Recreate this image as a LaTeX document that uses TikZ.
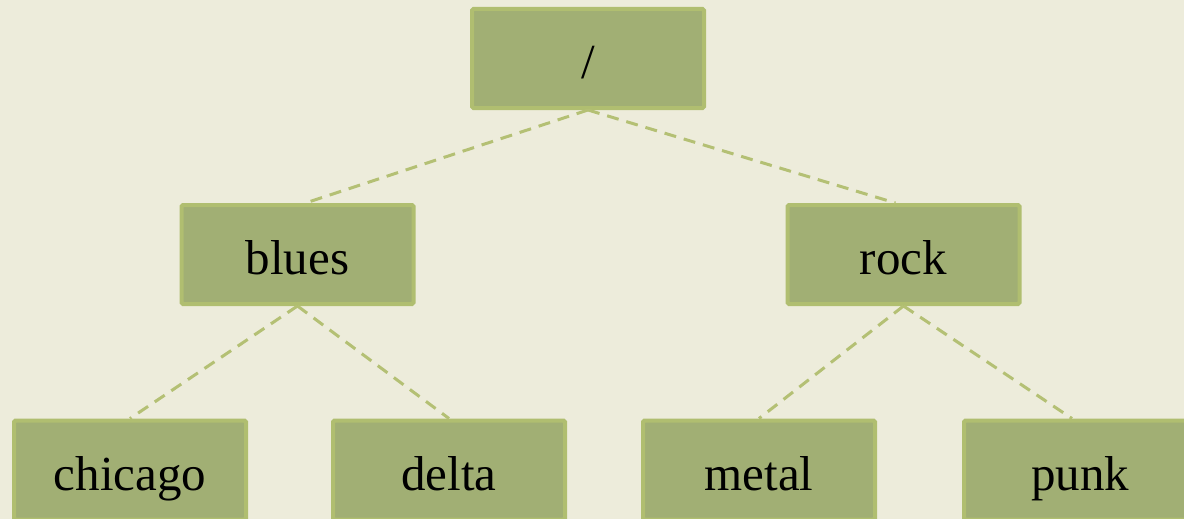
\documentclass[tikz,border=0pt]{standalone}
\usepackage{fontspec}
\setmainfont{Liberation Serif}
\definecolor{bg}{RGB}{237,236,219}
\definecolor{boxfill}{RGB}{161,175,116}
\definecolor{boxline}{RGB}{176,190,112}
\definecolor{edge}{RGB}{180,192,116}
\begin{document}
\begin{tikzpicture}[x=1pt,y=-1pt,
  tbox/.style={draw=boxline,line width=4pt,fill=boxfill,rounded corners=1.5pt,
    minimum width=232pt,minimum height=99pt,inner sep=0pt,
    text height=50pt,text depth=10pt,
    font=\fontsize{49}{52}\selectfont,text=black},
  link/.style={draw=edge,line width=3pt,dash pattern=on 12pt off 8pt}]
\fill[bg] (0,0) rectangle (1184,519);
\useasboundingbox (0,0) rectangle (1184,519);
\node[tbox] (root) at (588,58.5) {/};
\node[tbox] (blues) at (297.5,254.5) {blues};
\node[tbox] (rock) at (903.5,254.5) {rock};
\node[tbox] (chicago) at (130,470) {chicago};
\node[tbox] (delta) at (449,470) {delta};
\node[tbox] (metal) at (759,470) {metal};
\node[tbox] (punk) at (1080,470) {punk};
\draw[link] (root.south) -- ([xshift=8pt]blues.north);
\draw[link] (root.south) -- ([xshift=-8pt]rock.north);
\draw[link] (blues.south) -- (chicago.north);
\draw[link] (blues.south) -- (delta.north);
\draw[link] (rock.south) -- (metal.north);
\draw[link] (rock.south) -- ([xshift=-8pt]punk.north);
\end{tikzpicture}
\end{document}
